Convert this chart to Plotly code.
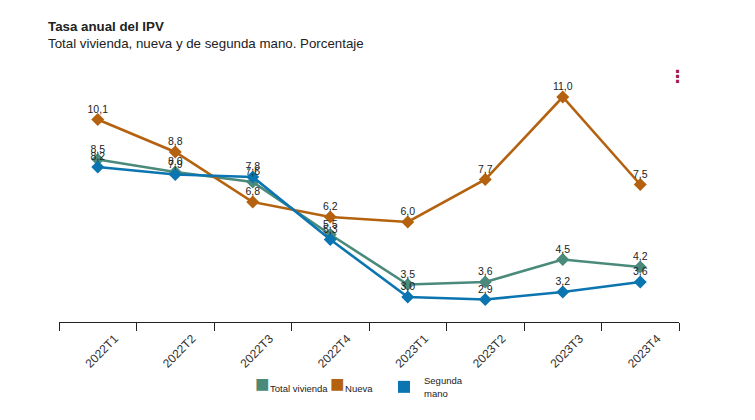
import plotly.graph_objects as go

categories = ["2022T1", "2022T2", "2022T3", "2022T4", "2023T1", "2023T2", "2023T3", "2023T4"]
total_vivienda = [8.5, 8.0, 7.6, 5.5, 3.5, 3.6, 4.5, 4.2]
nueva = [10.1, 8.8, 6.8, 6.2, 6.0, 7.7, 11.0, 7.5]
segunda_mano = [8.2, 7.9, 7.8, 5.3, 3.0, 2.9, 3.2, 3.6]

series_names = ["Total vivienda", "Nueva", "Segunda<br>mano"]
series_values = [total_vivienda, nueva, segunda_mano]
series_colors = ["#4a8a7b", "#b4620f", "#0b75b1"]

W, H = 755, 420
ML, MR, MT, MB = 59, 76, 72, 98
PW = W - ML - MR
PH = H - MT - MB
FONT = "Liberation Sans, Arial"

def px_x(p):
    return (p - ML) / PW

def px_y(p):
    return 1 - (p - MT) / PH

fig = go.Figure()
for name, vals, color in zip(series_names, series_values, series_colors):
    fig.add_trace(go.Scatter(
        x=categories, y=vals, mode="lines+markers",
        line=dict(color=color, width=2.6),
        marker=dict(symbol="diamond", size=10, color=color),
        cliponaxis=False, showlegend=False, name=name, hoverinfo="skip",
    ))
for name, vals in zip(series_names, series_values):
    fig.add_trace(go.Scatter(
        x=categories, y=vals, mode="markers+text",
        marker=dict(size=5, color="rgba(0,0,0,0)"),
        texttemplate="%{y:.1f}", textposition="top center",
        textfont=dict(family=FONT, size=10.5, color="#222"),
        cliponaxis=False, showlegend=False, hoverinfo="skip",
    ))

# legend: one legend box per series
legend_ids = ["legend", "legend2", "legend3"]
legend_x = [215, 290, 384]
legend_y = [374, 374, 368]
for i, (name, color, lid) in enumerate(zip(series_names, series_colors, legend_ids)):
    if i < 2:
        label = ('<span style="color:%s;font-size:24px;font-family:Liberation Sans">■</span>'
                 '<span style="font-size:2px"> </span>%s' % (color, name))
        marker = dict(symbol="square", size=1, color="rgba(0,0,0,0)")
    else:
        label = name
        marker = dict(symbol="square", size=12, color=color)
    fig.add_trace(go.Scatter(
        x=[None], y=[None], mode="markers", name=label, legend=lid,
        marker=marker, showlegend=True,
    ))

legend_common = dict(orientation="h", xanchor="left", yanchor="top",
                     xref="paper", yref="paper",
                     font=dict(family=FONT, size=9.5, color="#222"),
                     itemwidth=30, bgcolor="rgba(0,0,0,0)", borderwidth=0)
layout_legends = {}
for lid, lx, ly in zip(legend_ids, legend_x, legend_y):
    layout_legends[lid] = dict(legend_common, x=px_x(lx), y=px_y(ly))

fig.add_annotation(text="<b>Tasa anual del IPV</b>", xref="paper", yref="paper",
                   x=px_x(46), y=px_y(26.5), xanchor="left", yanchor="middle", showarrow=False,
                   font=dict(family=FONT, size=13.3, color="#222"))
fig.add_annotation(text="Total vivienda, nueva y de segunda mano. Porcentaje", xref="paper", yref="paper",
                   x=px_x(46), y=px_y(43.5), xanchor="left", yanchor="middle", showarrow=False,
                   font=dict(family=FONT, size=13.3, color="#222"))
fig.add_annotation(text="<b>⋮</b>", xref="paper", yref="paper",
                   x=px_x(677), y=px_y(76), xanchor="center", yanchor="middle", showarrow=False,
                   font=dict(family="DejaVu Sans", size=17, color="#9b1b4a"))

fig.update_layout(
    width=W, height=H,
    margin=dict(l=ML, r=MR, t=MT, b=MB),
    paper_bgcolor="white", plot_bgcolor="white",
    separators=",.",
    font=dict(family=FONT, color="#222"),
    hovermode=False,
    xaxis=dict(
        type="category", tickson="boundaries", ticks="outside", ticklen=8,
        tickcolor="#222", tickwidth=1, showline=True, linecolor="#222", linewidth=1,
        showgrid=False, zeroline=False, tickangle=-45, ticklabelshift=17,
        ticklabelstandoff=4,
        tickfont=dict(family=FONT, size=12, color="#333"),
        range=[-0.5, 7.5],
    ),
    yaxis=dict(range=[2, 12], showgrid=False, zeroline=False, showticklabels=False,
               showline=False, ticks=""),
    **layout_legends,
)

fig.write_html("out.html", config={"displayModeBar": False},
               post_script="document.body.style.margin='0';")
